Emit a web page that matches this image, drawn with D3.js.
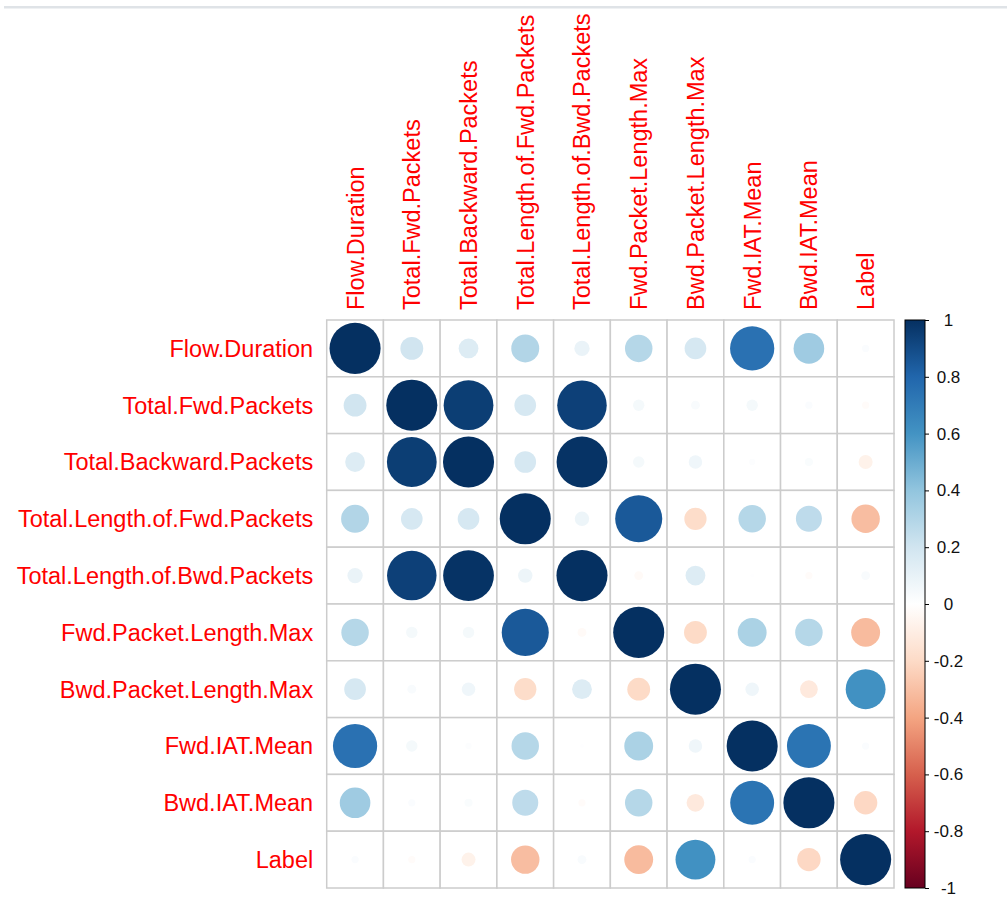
<!DOCTYPE html>
<html>
<head>
<meta charset="utf-8">
<script src="https://cdn.jsdelivr.net/npm/d3@7"></script>
<style>
  html, body { margin: 0; padding: 0; background: #ffffff; }
  svg { display: block; }
  text { font-family: "Liberation Sans", Arial, sans-serif; }
</style>
</head>
<body>
<svg id="chart" width="1007" height="897"></svg>
<script>
// Variables of the correlation matrix (rows and columns share the order)
const variables = [
  "Flow.Duration",
  "Total.Fwd.Packets",
  "Total.Backward.Packets",
  "Total.Length.of.Fwd.Packets",
  "Total.Length.of.Bwd.Packets",
  "Fwd.Packet.Length.Max",
  "Bwd.Packet.Length.Max",
  "Fwd.IAT.Mean",
  "Bwd.IAT.Mean",
  "Label"
];

// Pearson correlations, one row per variable
const corrFlowDuration      = [1.00, 0.20, 0.15, 0.30, 0.09, 0.29, 0.18, 0.75, 0.36, 0.02];
const corrTotalFwdPackets   = [0.20, 1.00, 0.95, 0.18, 0.94, 0.05, 0.03, 0.05, 0.02, -0.02];
const corrTotalBwdPackets   = [0.15, 0.95, 1.00, 0.18, 0.99, 0.05, 0.07, 0.015, 0.025, -0.075];
const corrLenFwdPackets     = [0.30, 0.18, 0.18, 1.00, 0.08, 0.85, -0.19, 0.29, 0.26, -0.31];
const corrLenBwdPackets     = [0.09, 0.94, 0.99, 0.08, 1.00, -0.03, 0.15, 0.005, -0.02, 0.03];
const corrFwdPktLenMax      = [0.29, 0.05, 0.05, 0.85, -0.03, 1.00, -0.20, 0.32, 0.29, -0.32];
const corrBwdPktLenMax      = [0.18, 0.03, 0.07, -0.19, 0.15, -0.20, 1.00, 0.07, -0.12, 0.61];
const corrFwdIATMean        = [0.75, 0.05, 0.015, 0.29, 0.005, 0.32, 0.07, 1.00, 0.74, 0.02];
const corrBwdIATMean        = [0.36, 0.02, 0.025, 0.26, -0.02, 0.29, -0.12, 0.74, 1.00, -0.21];
const corrLabel             = [0.02, -0.02, -0.075, -0.31, 0.03, -0.32, 0.61, 0.02, -0.21, 1.00];

const corrRows = [
  corrFlowDuration, corrTotalFwdPackets, corrTotalBwdPackets, corrLenFwdPackets,
  corrLenBwdPackets, corrFwdPktLenMax, corrBwdPktLenMax, corrFwdIATMean,
  corrBwdIATMean, corrLabel
];

// Colour legend ticks
const legendTicks = [-1, -0.8, -0.6, -0.4, -0.2, 0, 0.2, 0.4, 0.6, 0.8, 1];

// Diverging RdBu palette, from -1 to 1
const palette = ["#67001F", "#B2182B", "#D6604D", "#F4A582", "#FDDBC7", "#FFFFFF",
                 "#D1E5F0", "#92C5DE", "#4393C3", "#2166AC", "#053061"];

const svg = d3.select("#chart");

const gridLeft = 326.7, gridRight = 894, gridTop = 320, gridBottom = 888;

const x = d3.scaleBand().domain(variables).range([gridLeft, gridRight]).padding(0);
const y = d3.scaleBand().domain(variables).range([gridTop, gridBottom]).padding(0);
const color = d3.scaleLinear()
  .domain(palette.map((_, i) => -1 + i * 0.2))
  .range(palette)
  .interpolate(d3.interpolateRgb);
const radius = d3.scaleSqrt().domain([0, 1]).range([0, 0.45 * x.bandwidth()]);

const cells = [];
corrRows.forEach((row, i) => {
  row.forEach((v, j) => cells.push({ row: variables[i], col: variables[j], value: v }));
});

// Cell background and grid
svg.append("g")
  .selectAll("rect")
  .data(cells)
  .join("rect")
  .attr("x", d => x(d.col))
  .attr("y", d => y(d.row))
  .attr("width", x.bandwidth())
  .attr("height", y.bandwidth())
  .attr("fill", "#ffffff")
  .attr("stroke", "#cccccc")
  .attr("stroke-width", 1.5);

// Circles: area proportional to |r|, colour by r
svg.append("g")
  .selectAll("circle")
  .data(cells)
  .join("circle")
  .attr("cx", d => x(d.col) + x.bandwidth() / 2)
  .attr("cy", d => y(d.row) + y.bandwidth() / 2)
  .attr("r", d => radius(Math.abs(d.value)))
  .attr("fill", d => color(d.value));

// Row labels
svg.append("g")
  .selectAll("text")
  .data(variables)
  .join("text")
  .attr("x", gridLeft - 13.5)
  .attr("y", d => y(d) + y.bandwidth() / 2)
  .attr("dy", "0.36em")
  .attr("text-anchor", "end")
  .attr("font-size", 23.5)
  .attr("fill", "#ff0000")
  .text(d => d);

// Column labels, rotated
svg.append("g")
  .selectAll("text")
  .data(variables)
  .join("text")
  .attr("transform", d => `translate(${x(d) + x.bandwidth() / 2},${gridTop - 10}) rotate(-90)`)
  .attr("dy", "0.36em")
  .attr("text-anchor", "start")
  .attr("font-size", 23.5)
  .attr("fill", "#ff0000")
  .text(d => d);

// Colour legend
const legendX = 905, legendW = 20;
const ly = d3.scaleLinear().domain([-1, 1]).range([gridBottom, gridTop]);

const defs = svg.append("defs");
const grad = defs.append("linearGradient")
  .attr("id", "corr-gradient")
  .attr("x1", 0).attr("y1", 1).attr("x2", 0).attr("y2", 0);
grad.selectAll("stop")
  .data(palette)
  .join("stop")
  .attr("offset", (_, i) => i / (palette.length - 1))
  .attr("stop-color", d => d);

svg.append("rect")
  .attr("x", legendX)
  .attr("y", ly(1))
  .attr("width", legendW)
  .attr("height", ly(-1) - ly(1))
  .attr("fill", "url(#corr-gradient)")
  .attr("stroke", "#000000")
  .attr("stroke-width", 1);

const legendAxis = svg.append("g")
  .attr("transform", `translate(${legendX + legendW},0)`)
  .call(d3.axisRight(ly).tickValues(legendTicks).tickSize(4).tickFormat(d3.format("~g")));
legendAxis.select(".domain").remove();
legendAxis.selectAll(".tick line").attr("stroke", "#000000");
legendAxis.selectAll(".tick text")
  .attr("x", 23.5)
  .attr("text-anchor", "middle")
  .attr("font-size", 17)
  .attr("font-family", "'Liberation Sans', Arial, sans-serif")
  .attr("fill", "#111111")
  .text(d => d === 0 ? "0" : d3.format("~g")(d).replace("−", "-"));

// Thin frame line along the top edge
svg.append("rect")
  .attr("x", 4)
  .attr("y", 6)
  .attr("width", 1003)
  .attr("height", 2.5)
  .attr("fill", "#dfe3e7");
</script>
</body>
</html>
